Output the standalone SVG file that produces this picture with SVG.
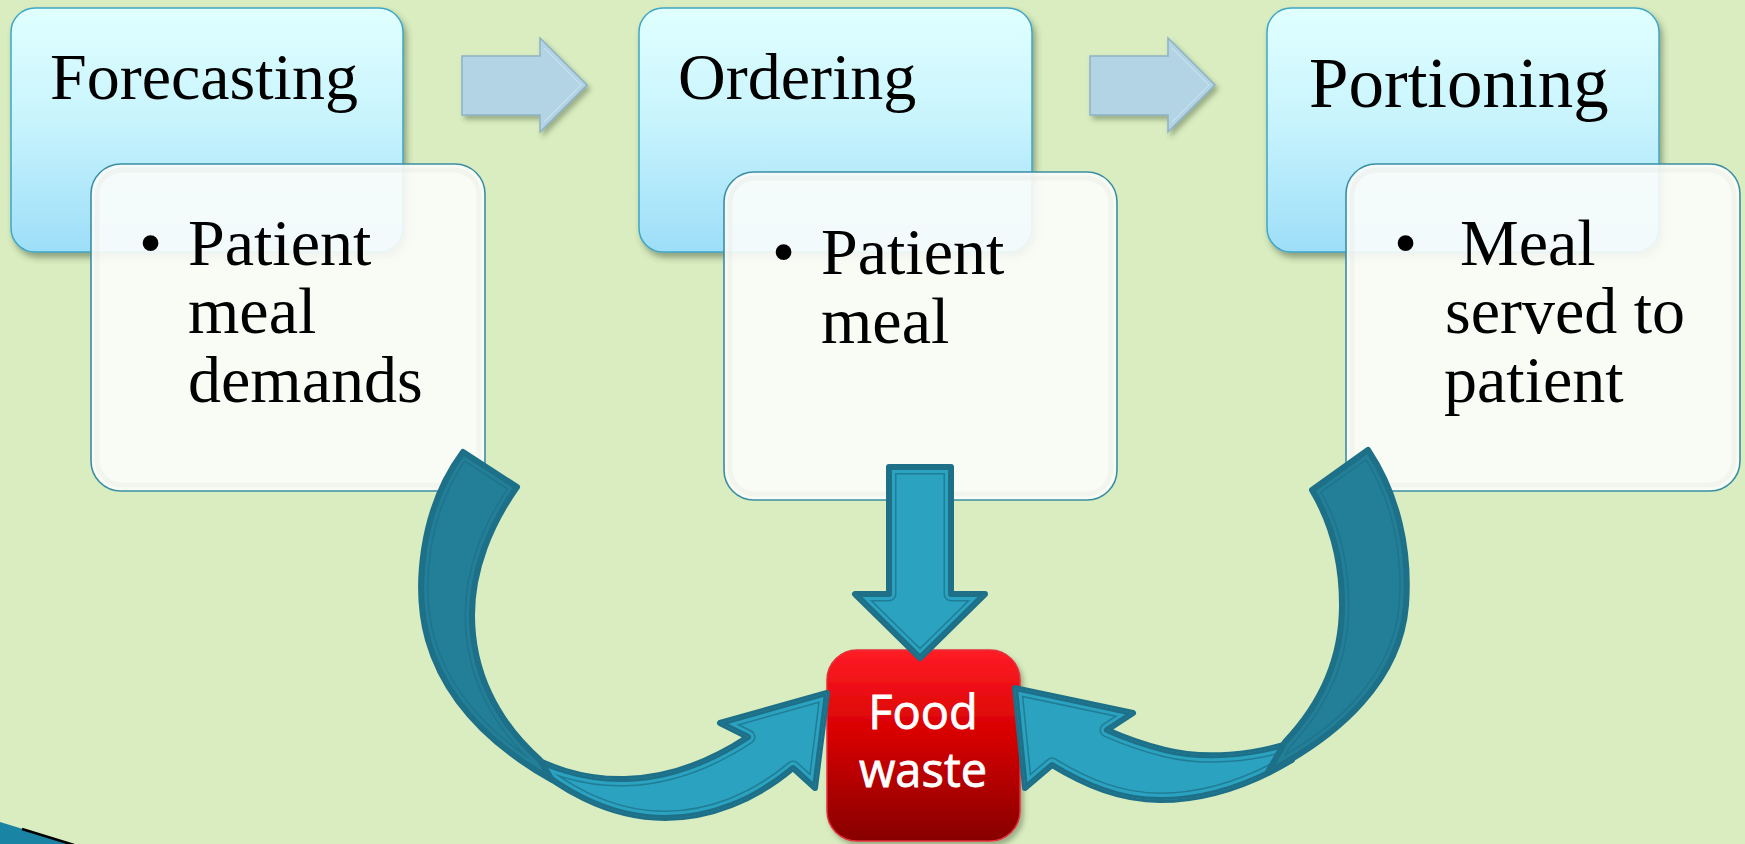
<svg xmlns="http://www.w3.org/2000/svg" xmlns:xlink="http://www.w3.org/1999/xlink" width="1745" height="844" viewBox="0 0 1745 844">
  <style>
    .hdr { fill: url(#hdrGrad); stroke: #3fa6c6; stroke-width: 1.5; }
    .det { fill: #fcfdfb; fill-opacity: 0.9; stroke: #3a8ea4; stroke-width: 1.6; }
    .det-in { fill: none; stroke: #e6e9e2; stroke-width: 5; opacity: 0.35; }
    .t-hdr { font-family: "Liberation Serif", "Times New Roman", serif; fill: #000; }
    .t-det { font-family: "Liberation Serif", "Times New Roman", serif; font-size: 66px; fill: #000; }
    .t-waste { font-family: "Open Sans", "DejaVu Sans", sans-serif; font-size: 47px; fill: #fff; text-anchor: middle; stroke: #fff; stroke-width: 0.8; }
    .step { fill: #b2d4e4; stroke: #8db2c5; stroke-width: 1.5; stroke-linejoin: miter; }
    .step-hl { fill: none; stroke: #cfe6f0; stroke-width: 1; }
    .body-lt { fill: #2ba2bf; stroke: #1d7088; stroke-width: 6; stroke-linejoin: round; }
    .body-dk { fill: #237f98; stroke: #1d7088; stroke-width: 6; stroke-linejoin: round; }
    .ln { fill: none; stroke: #1d7088; stroke-opacity: 0.75; stroke-width: 15; stroke-linejoin: round; }
    .gap-lt { fill: none; stroke: #2ba2bf; stroke-width: 12; stroke-linejoin: round; }
    .gap-dk { fill: none; stroke: #237f98; stroke-width: 12; stroke-linejoin: round; }
    .edge { fill: none; stroke: #1d7088; stroke-width: 6; stroke-linejoin: round; }
  </style>
  <defs>
    <linearGradient id="hdrGrad" x1="0" y1="0" x2="0" y2="1">
      <stop offset="0" stop-color="#e0ffff"/>
      <stop offset="0.45" stop-color="#c9f4fd"/>
      <stop offset="1" stop-color="#9ddef8"/>
    </linearGradient>
    <linearGradient id="redGrad" x1="0" y1="0" x2="0" y2="1">
      <stop offset="0" stop-color="#ff1c26"/>
      <stop offset="0.45" stop-color="#d60000"/>
      <stop offset="1" stop-color="#870000"/>
    </linearGradient>
    <filter id="shadow" x="-10%" y="-10%" width="125%" height="130%">
      <feDropShadow dx="3" dy="5" stdDeviation="3" flood-color="#34452a" flood-opacity="0.45"/>
    </filter>
    <filter id="softShadow" x="-10%" y="-10%" width="125%" height="130%">
      <feDropShadow dx="3" dy="4" stdDeviation="2.5" flood-color="#3d4d33" flood-opacity="0.4"/>
    </filter>

    <!-- curved and straight teal arrow outlines -->
    <path id="lb" d="M463,452 L517,487 C490,525 472,570 472,615 C472,670 495,720 540,760 L552,780 C490,745 445,700 428,640 C414,590 420,510 463,452 Z"/>
    <path id="lf" d="M512,745 C545,768 585,780 625,779 C670,778 710,762 748,737 L720,723 L827,693 L815,788 L793,768 C755,800 710,818 665,818 C610,818 555,790 512,745 Z"/>
    <path id="rb" d="M1312,490 L1368,450 C1398,495 1410,550 1406,605 C1400,680 1340,735 1268,772 L1285,742 C1325,700 1342,655 1342,605 C1342,565 1333,525 1312,490 Z"/>
    <path id="rf" d="M1292,742 C1255,755 1205,760 1165,750 C1145,745 1125,738 1107,730 L1133,713 L1015,688 L1025,788 L1052,765 C1085,785 1120,800 1160,800 C1210,800 1255,782 1292,760 Z"/>
    <path id="dn" d="M889,467 H951 V594 H985 L920,658 L855,594 H889 Z"/>

    <clipPath id="c-lb"><use href="#lb"/></clipPath>
    <clipPath id="c-lf"><use href="#lf"/></clipPath>
    <clipPath id="c-rb"><use href="#rb"/></clipPath>
    <clipPath id="c-rf"><use href="#rf"/></clipPath>
    <clipPath id="c-dn"><use href="#dn"/></clipPath>
  </defs>

  <!-- slide background -->
  <rect x="0" y="0" width="1745" height="844" fill="#d9edc0"/>
  <polygon points="0,822 72,844 0,844" fill="#1a84a4"/>
  <line x1="22" y1="829" x2="74" y2="845" stroke="#000" stroke-width="2.5"/>

  <!-- step 1 -->
  <g id="forecasting">
    <rect class="hdr" x="11" y="8" width="392" height="244" rx="24" filter="url(#shadow)"/>
    <text class="t-hdr" x="50" y="99" font-size="66">Forecasting</text>
  </g>
  <g id="forecasting-detail">
    <rect class="det" x="91" y="164" width="394" height="327" rx="30"/>
    <rect class="det-in" x="97" y="170" width="382" height="315" rx="25"/>
    <text class="t-det" x="139" y="265">•</text>
    <text class="t-det" x="188" y="265">Patient</text>
    <text class="t-det" x="188" y="333">meal</text>
    <text class="t-det" x="188" y="402">demands</text>
  </g>

  <!-- step 2 -->
  <g id="ordering">
    <rect class="hdr" x="639" y="8" width="393" height="244" rx="24" filter="url(#shadow)"/>
    <text class="t-hdr" x="678" y="99" font-size="66">Ordering</text>
  </g>
  <g id="ordering-detail">
    <rect class="det" x="724" y="172" width="393" height="328" rx="30"/>
    <rect class="det-in" x="730" y="178" width="381" height="316" rx="25"/>
    <text class="t-det" x="772" y="274">•</text>
    <text class="t-det" x="821" y="274">Patient</text>
    <text class="t-det" x="821" y="343">meal</text>
  </g>

  <!-- step 3 -->
  <g id="portioning">
    <rect class="hdr" x="1267" y="8" width="392" height="244" rx="24" filter="url(#shadow)"/>
    <text class="t-hdr" x="1309" y="107" font-size="71">Portioning</text>
  </g>
  <g id="portioning-detail">
    <rect class="det" x="1346" y="164" width="394" height="327" rx="30"/>
    <rect class="det-in" x="1352" y="170" width="382" height="315" rx="25"/>
    <text class="t-det" x="1394" y="265">•</text>
    <text class="t-det" x="1460" y="265">Meal</text>
    <text class="t-det" x="1445" y="333">served to</text>
    <text class="t-det" x="1444" y="402">patient</text>
  </g>

  <!-- outcome -->
  <g id="food-waste">
    <rect x="827" y="650" width="193" height="191" rx="30" fill="url(#redGrad)" stroke="#e3303c" stroke-width="1.5" filter="url(#softShadow)"/>
    <text class="t-waste" x="923" y="729">Food</text>
    <text class="t-waste" x="923" y="787">waste</text>
  </g>

  <g id="connectors">
    <!-- process flow arrows -->
    <g filter="url(#softShadow)">
      <path class="step" d="M462,56 H540 V38 L587,85 L540,132 V115 H462 Z"/>
      <path class="step-hl" d="M544,48 L581,85 L544,122"/>
    </g>
    <g filter="url(#softShadow)">
      <path class="step" d="M1090,56 H1168 V38 L1215,85 L1168,132 V115 H1090 Z"/>
      <path class="step-hl" d="M1172,48 L1209,85 L1172,122"/>
    </g>

    <!-- Ordering to Food waste -->
    <g>
      <use href="#dn" class="body-lt"/>
      <g clip-path="url(#c-dn)">
        <use href="#dn" class="ln"/><use href="#dn" class="gap-lt"/><use href="#dn" class="edge"/>
      </g>
    </g>

    <!-- Forecasting to Food waste -->
    <g>
      <use href="#lf" class="body-lt"/>
      <g clip-path="url(#c-lf)">
        <use href="#lf" class="ln"/><use href="#lf" class="gap-lt"/><use href="#lf" class="edge"/>
      </g>
      <use href="#lb" class="body-dk"/>
      <g clip-path="url(#c-lb)">
        <use href="#lb" class="ln"/><use href="#lb" class="gap-dk"/><use href="#lb" class="edge"/>
      </g>
    </g>

    <!-- Portioning to Food waste -->
    <g>
      <use href="#rf" class="body-lt"/>
      <g clip-path="url(#c-rf)">
        <use href="#rf" class="ln"/><use href="#rf" class="gap-lt"/><use href="#rf" class="edge"/>
      </g>
      <use href="#rb" class="body-dk"/>
      <g clip-path="url(#c-rb)">
        <use href="#rb" class="ln"/><use href="#rb" class="gap-dk"/><use href="#rb" class="edge"/>
      </g>
    </g>
  </g>
</svg>
